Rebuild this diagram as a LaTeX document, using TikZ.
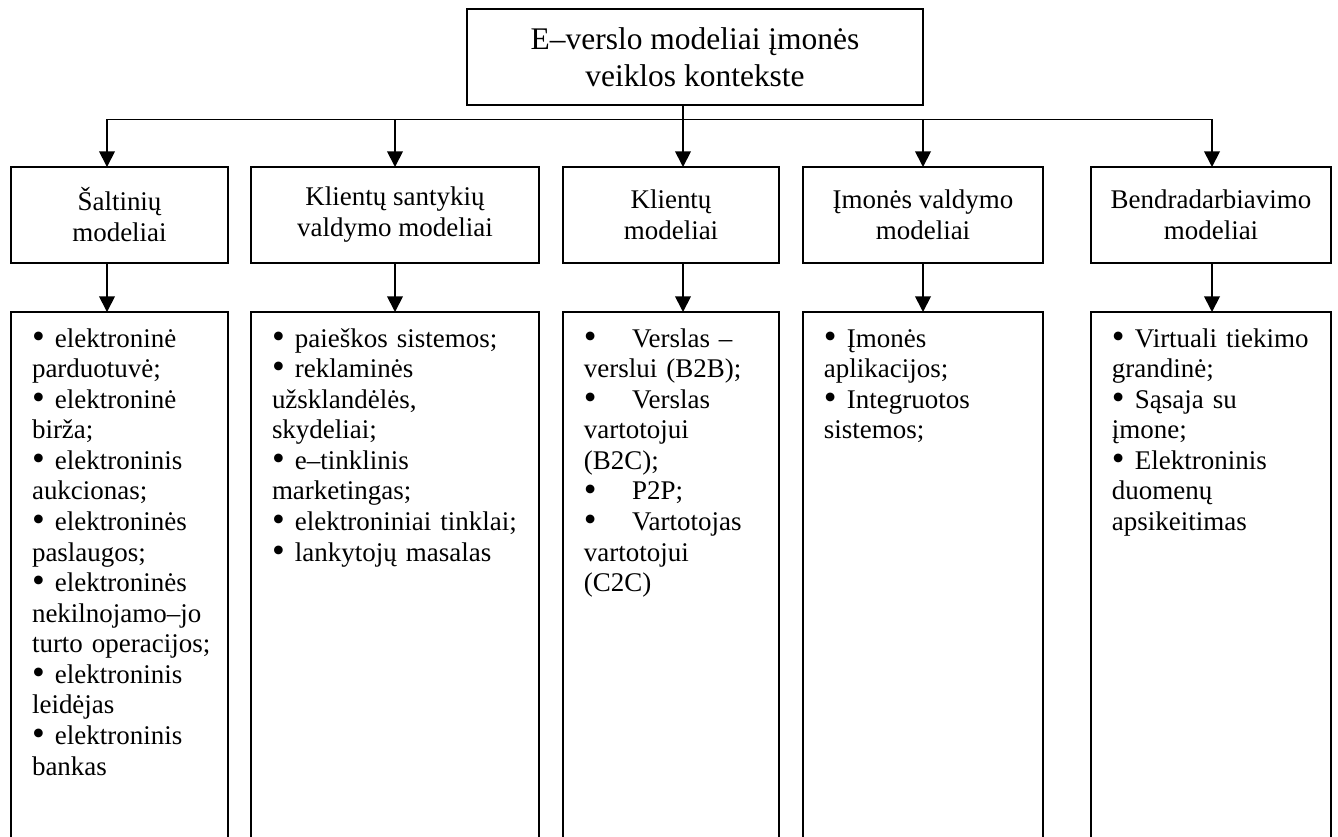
\documentclass[tikz,border=0pt]{standalone}
\usepackage{fontspec}
\usepackage{graphicx}
\setmainfont{Liberation Serif}
\usetikzlibrary{arrows.meta}
% list bullet, a little bolder than the text font's own
\newcommand\bul{\smash{\raisebox{-0.6pt}{\scalebox{1.35}{•}}}}
% bullet markers: normal and wide (tab-like) spacing
\newcommand\itm{\makebox[10.2pt][l]{\bul}}
\newcommand\itmwide{\makebox[21.4pt][l]{\bul}}
\begin{document}
\begin{tikzpicture}[x=0.4448pt,y=-0.4448pt,
  every node/.style={inner sep=0pt,outer sep=0pt},
  frame/.style={draw,line width=0.9pt},
  titlebox/.style={frame,align=center,minimum width=202.8pt,minimum height=42.7pt,
    font=\fontsize{14}{16.4}\selectfont},
  headbox/.style={frame,align=center,minimum height=42.7pt,
    font=\fontsize{12}{13.8}\selectfont},
  listbox/.style={frame,minimum height=239.3pt},
  listtext/.style={anchor=base west,align=left,text width=#1,
    font=\fontsize{12}{13.6}\selectfont},
  link/.style={line width=0.8pt},
  arrow/.style={link,-{Triangle[length=7pt,width=7pt]}},
]
\useasboundingbox (0,0) rectangle (1338,836);
\clip (0,0) rectangle (1338,836);

% top node
\node[titlebox] (top) at (695,57) {\raisebox{-1pt}{E–verslo modeliai įmonės}\\\raisebox{-1pt}{veiklos kontekste}};

% second level
\node[headbox,minimum width=96.5pt]  (s1) at (119.5,215) {Šaltinių\\modeliai};
\node[headbox,minimum width=128.1pt] (s2) at (395,215)   {Klientų santykių\\valdymo modeliai};
\node[headbox,minimum width=96.1pt]  (s3) at (671,215)   {Klientų\\modeliai};
\node[headbox,minimum width=106.8pt] (s4) at (923,215)   {Įmonės valdymo\\modeliai};
\node[headbox,minimum width=106.8pt] (s5) at (1211,215)  {Bendradarbiavimo\\modeliai};

% list frames (open at the bottom edge)
\node[listbox,minimum width=96.5pt]  (l1) at (119.5,581) {};
\node[listbox,minimum width=128.1pt] (l2) at (395,581)   {};
\node[listbox,minimum width=96.1pt]  (l3) at (671,581)   {};
\node[listbox,minimum width=106.8pt] (l4) at (923,581)   {};
\node[listbox,minimum width=106.8pt] (l5) at (1211,581)  {};

% list contents
\node[listtext=110pt] (t1) at ([xshift=9.34pt,yshift=-15.57pt]l1.north west) {%
  \itm elektroninė\\
  parduotuvė;\\
  \itm elektroninė\\
  birža;\\
  \itm elektroninis\\
  aukcionas;\\
  \itm elektroninės\\
  paslaugos;\\
  \itm elektroninės\\
  nekilnojamo–jo\\
  turto operacijos;\\
  \itm elektroninis\\
  leidėjas\\
  \itm elektroninis\\
  bankas};
\node[listtext=130pt] (t2) at ([xshift=9.34pt,yshift=-15.57pt]l2.north west) {%
  \itm paieškos sistemos;\\
  \itm reklaminės\\
  užsklandėlės,\\
  skydeliai;\\
  \itm e–tinklinis\\
  marketingas;\\
  \itm elektroniniai tinklai;\\
  \itm lankytojų masalas};
\node[listtext=110pt] (t3) at ([xshift=9.34pt,yshift=-15.57pt]l3.north west) {%
  \itmwide Verslas –\\
  verslui (B2B);\\
  \itmwide Verslas\\
  vartotojui\\
  (B2C);\\
  \itmwide P2P;\\
  \itmwide Vartotojas\\
  vartotojui\\
  (C2C)};
\node[listtext=110pt] (t4) at ([xshift=9.34pt,yshift=-15.57pt]l4.north west) {%
  \itm Įmonės\\
  aplikacijos;\\
  \itm Integruotos\\
  sistemos;};
\node[listtext=110pt] (t5) at ([xshift=9.34pt,yshift=-15.57pt]l5.north west) {%
  \makebox[88.5pt][s]{\itm Virtuali tiekimo}\\
  grandinė;\\
  \itm Sąsaja su\\
  įmone;\\
  \itm Elektroninis\\
  duomenų\\
  apsikeitimas};

% connectors
\coordinate (j1) at (107,119.5);
\coordinate (j2) at (395,119.5);
\coordinate (j3) at (683,119.5);
\coordinate (j4) at (923,119.5);
\coordinate (j5) at (1212,119.5);
\draw[link,line cap=rect] (j1) -- (j5);
\draw[link] (top.south -| j3) -- (j3);
\foreach \i in {1,...,5}{
  \draw[arrow] (j\i) -- (j\i |- s\i.north);
  \draw[arrow] (j\i |- s\i.south) -- (j\i |- l\i.north);
}
\end{tikzpicture}
\end{document}
